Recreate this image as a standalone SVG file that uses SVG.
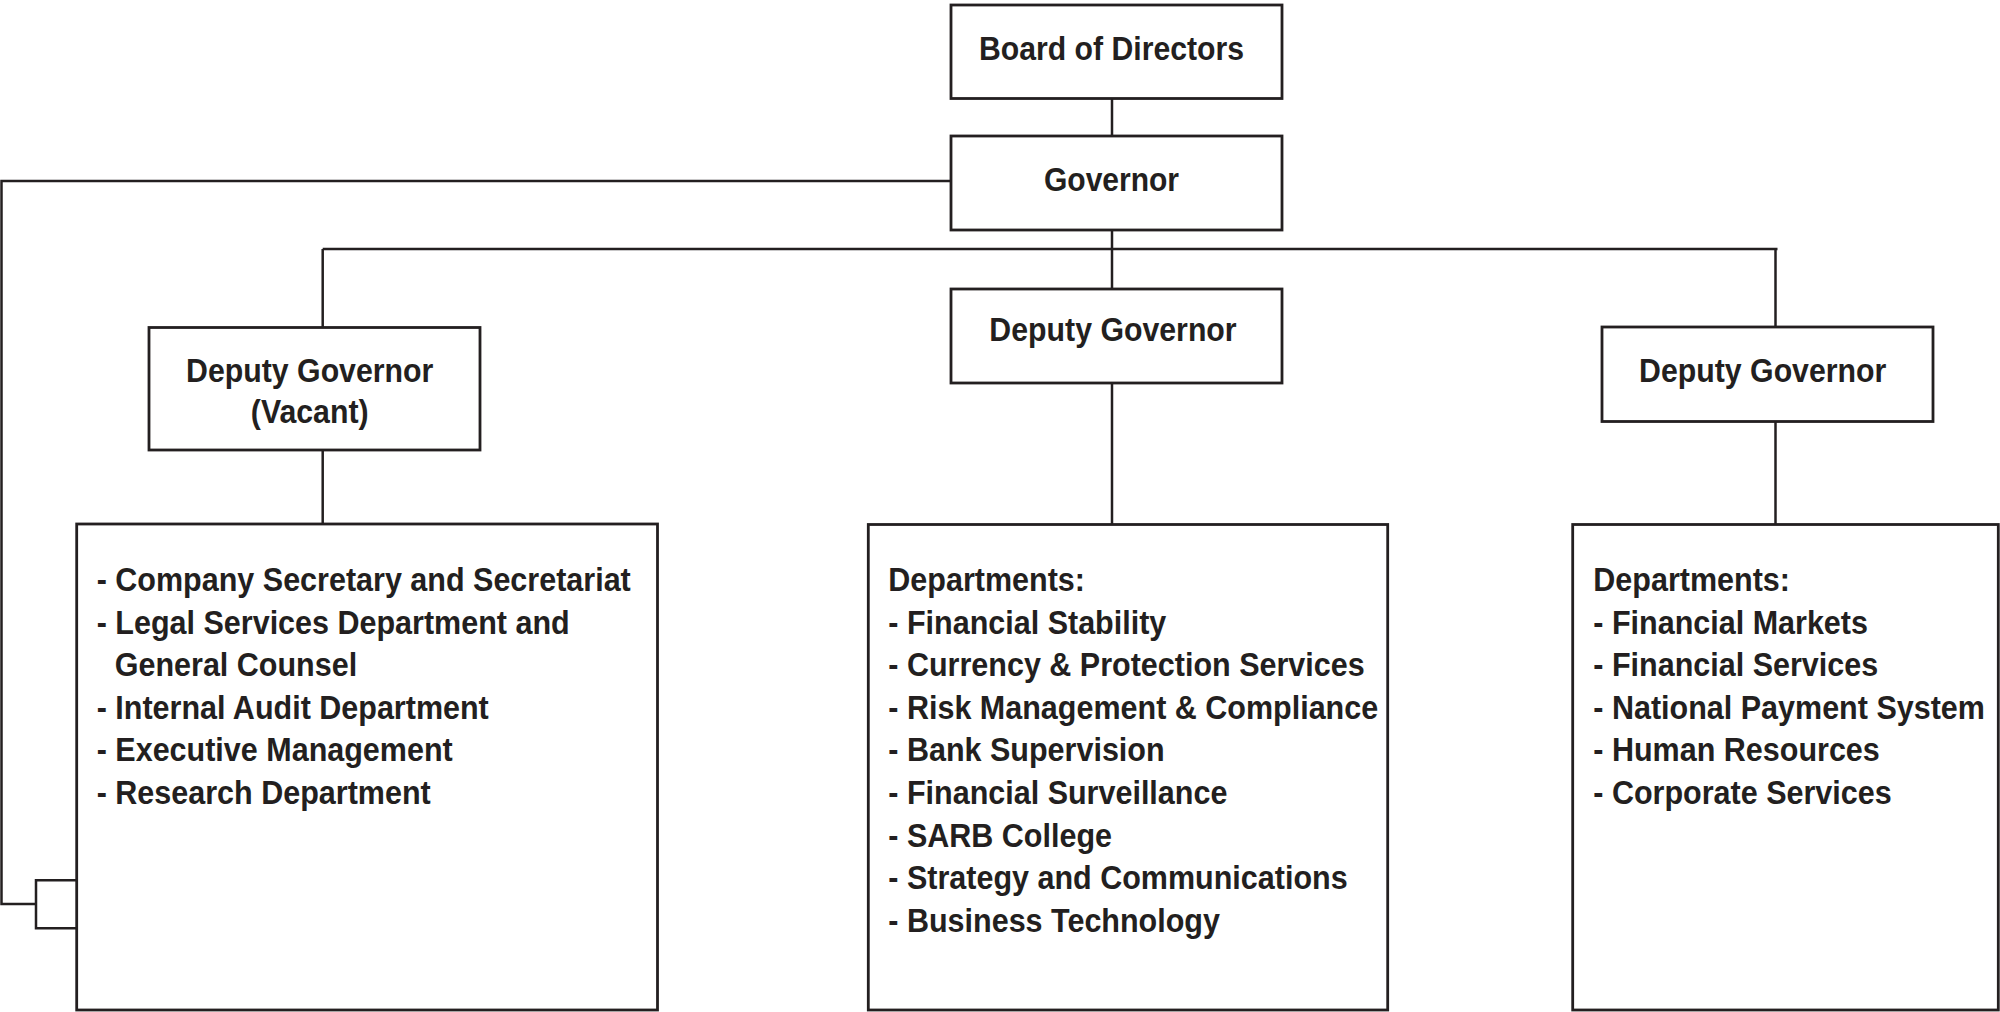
<svg xmlns="http://www.w3.org/2000/svg" width="2000" height="1012" viewBox="0 0 2000 1012">
<style>
.box{fill:#fff;stroke:#231f20;stroke-width:2.8}
.ln{fill:none;stroke:#231f20;stroke-width:2.5}
text{font-family:"Liberation Sans",Arial,Helvetica,sans-serif;font-weight:bold;font-size:33px;fill:#231f20}
.c{text-anchor:middle}
</style>
<rect width="2000" height="1012" fill="#fff"/>
<g id="connectors">
<path class="ln" d="M1112 98.5V136"/>
<path class="ln" d="M1112 230V289"/>
<path class="ln" d="M322.7 249H1777.5"/>
<path class="ln" d="M322.7 249V327.5"/>
<path class="ln" d="M1775.5 249V327"/>
<path class="ln" d="M322.7 450V524"/>
<path class="ln" d="M1112 383V524.5"/>
<path class="ln" d="M1775.5 421.5V524.5"/>
<path class="ln" d="M951 181H1.5V904H36"/>
<path class="ln" d="M76.7 880.3H36V928.3H76.7"/>
</g>
<g id="board">
<rect class="box" x="951" y="5" width="331" height="93.5"/>
<g transform="translate(1111.5,0) scale(0.915,1)"><text class="c" x="0" y="60">Board of Directors</text></g>
</g>
<g id="governor">
<rect class="box" x="951" y="136" width="331" height="94"/>
<g transform="translate(1111.5,0) scale(0.91,1)"><text class="c" x="0" y="190.7">Governor</text></g>
</g>
<g id="dg-vacant">
<rect class="box" x="149" y="327.5" width="331" height="122.5"/>
<g transform="translate(309.7,0) scale(0.918,1)"><text class="c" x="0" y="381.7">Deputy Governor</text><text class="c" x="0" y="423.3">(Vacant)</text></g>
</g>
<g id="dg-center">
<rect class="box" x="951" y="289" width="331" height="94"/>
<g transform="translate(1113,0) scale(0.918,1)"><text class="c" x="0" y="341.5">Deputy Governor</text></g>
</g>
<g id="dg-right">
<rect class="box" x="1602" y="327" width="331" height="94.5"/>
<g transform="translate(1762.7,0) scale(0.918,1)"><text class="c" x="0" y="382.3">Deputy Governor</text></g>
</g>
<g id="dept-left">
<rect class="box" x="76.7" y="524" width="580.8" height="486"/>
<g transform="translate(96.7,0) scale(0.925,1)">
<text x="0" y="591">- Company Secretary and Secretariat</text>
<text x="0" y="633.6">- Legal Services Department and</text>
<text x="19.5" y="676.2">General Counsel</text>
<text x="0" y="718.8">- Internal Audit Department</text>
<text x="0" y="761.4">- Executive Management</text>
<text x="0" y="804">- Research Department</text>
</g>
</g>
<g id="dept-center">
<rect class="box" x="868.3" y="524.5" width="519.4" height="485.5"/>
<g transform="translate(888.3,0) scale(0.925,1)">
<text x="0" y="591">Departments:</text>
<text x="0" y="633.6">- Financial Stability</text>
<text x="0" y="676.2">- Currency &amp; Protection Services</text>
<text x="0" y="718.8">- Risk Management &amp; Compliance</text>
<text x="0" y="761.4">- Bank Supervision</text>
<text x="0" y="804">- Financial Surveillance</text>
<text x="0" y="846.6">- SARB College</text>
<text x="0" y="889.2">- Strategy and Communications</text>
<text x="0" y="931.8">- Business Technology</text>
</g>
</g>
<g id="dept-right">
<rect class="box" x="1572.7" y="524.5" width="425.6" height="485.5"/>
<g transform="translate(1593.3,0) scale(0.925,1)">
<text x="0" y="591">Departments:</text>
<text x="0" y="633.6">- Financial Markets</text>
<text x="0" y="676.2">- Financial Services</text>
<text x="0" y="718.8">- National Payment System</text>
<text x="0" y="761.4">- Human Resources</text>
<text x="0" y="804">- Corporate Services</text>
</g>
</g>
</svg>
